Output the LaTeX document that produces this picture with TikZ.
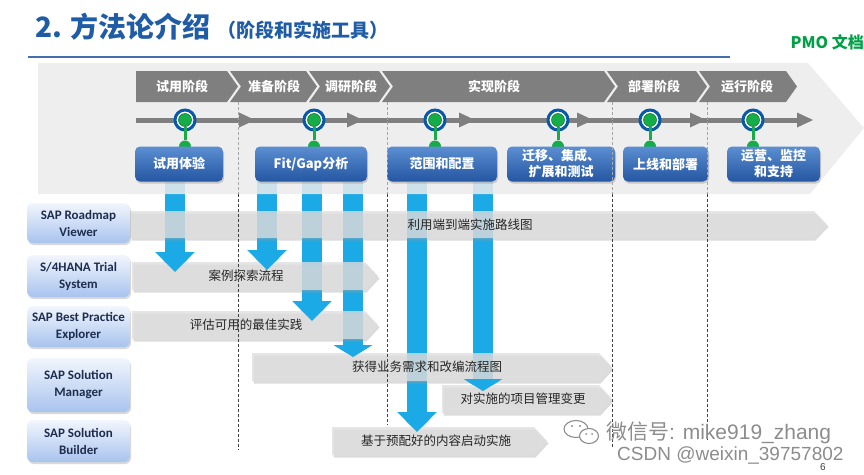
\documentclass[tikz,border=0pt]{standalone}
\usepackage{fontspec}
\setmainfont{Noto Sans CJK SC}
\newfontfamily\toolfont{Carlito}
\newfontfamily\markfont{Liberation Sans}
\usetikzlibrary{shapes,arrows.meta,positioning,calc,shadows}
\pgfdeclarelayer{flow}
\pgfdeclarelayer{band}
\pgfdeclarelayer{front}
\pgfsetlayers{flow,band,main,front}
\definecolor{titleblue}{RGB}{31,92,165}
\definecolor{lineblue}{RGB}{70,110,175}
\definecolor{pmogreen}{RGB}{0,160,70}
\definecolor{phasegray}{RGB}{127,127,127}
\definecolor{bandgray}{RGB}{235,235,235}
\definecolor{ringblue}{RGB}{10,88,168}
\definecolor{dotgreen}{RGB}{22,172,72}
\definecolor{boxtop}{RGB}{92,142,210}
\definecolor{boxbot}{RGB}{36,86,162}
\definecolor{tooltop}{RGB}{242,246,253}
\definecolor{toolbot}{RGB}{168,195,238}
\definecolor{tooltext}{RGB}{30,45,78}
\definecolor{flowblue}{RGB}{27,170,230}
\definecolor{bargray}{RGB}{222,222,222}
\tikzset{
  titletxt/.style={inner sep=0pt,text=titleblue,
                   font=\fontsize{28pt}{32pt}\selectfont\bfseries},
  subtxt/.style={inner sep=0pt,text=titleblue,
                 font=\fontsize{19pt}{22pt}\selectfont\bfseries},
  pmotxt/.style={inner sep=0pt,text=pmogreen,
                 font=\fontsize{16pt}{18pt}\selectfont\bfseries},
  titleline/.style={draw=lineblue,line width=2pt},
  phasetxt/.style={inner sep=0pt,text=white,
                   font=\fontsize{13pt}{15pt}\selectfont\bfseries},
  timeline/.style={draw=phasegray,line width=5pt},
  msring/.style={circle,draw=ringblue,line width=3pt,fill=white,
                 minimum size=20pt,inner sep=0pt},
  msdot/.style={circle,fill=dotgreen,draw=dotgreen!75!black,line width=0.6pt,
                minimum size=13pt,inner sep=0pt},
  msfoot/.style={circle,fill=dotgreen,minimum size=12pt,inner sep=0pt},
  stem/.style={draw=dotgreen,line width=3pt},
  msbox/.style={rectangle,rounded corners=5pt,top color=boxtop,bottom color=boxbot,
                minimum height=35pt,inner sep=1pt,align=center,text=white,
                font=\fontsize{13pt}{16pt}\selectfont\bfseries,
                drop shadow={opacity=0.35,shadow xshift=1pt,shadow yshift=-2pt}},
  toolbox/.style={rectangle,rounded corners=6pt,top color=tooltop,bottom color=toolbot,
                  minimum width=103pt,inner sep=1pt,align=center,text=tooltext,
                  font=\toolfont\bfseries\fontsize{13pt}{17pt}\selectfont,
                  drop shadow={opacity=0.3,shadow xshift=1pt,shadow yshift=-2pt}},
  barshadow/.style={fill=black!40,fill opacity=0.35},
  barfill/.style={fill=bargray,fill opacity=0.78},
  bartxt/.style={inner sep=0pt,text=black!85,font=\fontsize{12.5pt}{14pt}\selectfont},
  sepfaint/.style={draw=black!35,line width=0.7pt,dash pattern=on 3pt off 2pt},
  sepline/.style={draw=black!75,line width=0.8pt,dash pattern=on 3pt off 2pt},
  flowarr/.style={draw=flowblue,line width=20pt,-{Triangle[width=38pt,length=20pt]}},
  flowflat/.style={draw=flowblue,line width=20pt,-{Triangle[width=38pt,length=12pt]}},
  marktxt/.style={inner sep=0pt,text=black!45},
}
\begin{document}
\begin{tikzpicture}[x=1pt,y=-1pt]
  \useasboundingbox (0,0) rectangle (864,474);
  %% Title
  \node[titletxt,anchor=west] (title) at (35,27) {2. 方法论介绍};
  \node[subtxt,right=6pt of title.base east,anchor=base west] (subt) {（阶段和实施工具）};
  \node[pmotxt,anchor=east] (pmo) at (864,42) {PMO 文档};
  \draw[titleline] (28,57) -- (730,57);

  %% Background band
  \begin{pgfonlayer}{band}
    \fill[bandgray,fill opacity=0.85] (38,63) -- (808,63) -- (864,128)
      -- (810,194) -- (38,194) -- cycle;
  \end{pgfonlayer}

  %% Phase chevrons
  \foreach \n/\l/\r/\d/\tx/\t in {p1/136/238/0/182/试用阶段,
      p2/230/317/11/274/准备阶段, p3/309/390/11/351/调研阶段,
      p4/382/615/11/494/实现阶段, p5/607/707/11/654/部署阶段,
      p6/699/797/11/747/运行阶段}{
    \fill[phasegray] (\l,71) -- (\r-11,71) -- (\r,86.5) -- (\r-11,102)
      -- (\l,102) -- (\l+\d,86.5) -- cycle;
    \node[phasetxt] (\n) at (\tx,86.5) {\t};
  }

  %% Timeline
  \draw[timeline] (136,120) -- (800,120);
  \foreach \t in {255,363,475,593,706,813}
    \fill[phasegray] (\t,120) -- (\t-16,112.5) -- (\t-16,127.5) -- cycle;

  %% Milestones
  \foreach \i/\x in {1/185,2/314,3/435,4/558,5/650,6/753}{
    \node[msfoot] (f\i) at (\x,146.5) {};
    \node[msring] (m\i) at (\x,120) {};
    \node[msdot] (g\i) at (m\i) {};
    \draw[stem] (g\i) -- (f\i);
  }

  %% Deliverable boxes
  \node[msbox,minimum width=88pt] (b1) at (179,164) {试用体验};
  \node[msbox,minimum width=112pt] (b2) at (311,164) {Fit/Gap分析};
  \node[msbox,minimum width=110pt] (b3) at (442,164) {范围和配置};
  \node[msbox,minimum width=108pt] (b4) at (561,164) {迁移、集成、\\扩展和测试};
  \node[msbox,minimum width=85pt] (b5) at (665.5,164) {上线和部署};
  \node[msbox,minimum width=93pt] (b6) at (773.5,164) {运营、监控\\和支持};

  %% Process bars
  \foreach \n/\xa/\xb/\ya/\yb/\tx/\t in {r1/130/827/211/238/470/利用端到端实施路线图,
      r2/132/378/262/290/246/案例探索流程, r3/132/378/311/339/246/评估可用的最佳实践,
      r4/252/612/353/381/427/获得业务需求和改编流程图,
      r5/442/612/385/413/523/对实施的项目管理变更,
      r6/332/547/427/455/436/基于预配好的内容启动实施}{
    \fill[barshadow,shift={(1.5,2.5)}] (\xa,\ya) -- (\xb-13,\ya)
      -- (\xb,{(\ya+\yb)/2}) -- (\xb-13,\yb) -- (\xa,\yb) -- cycle;
    \fill[barfill] (\xa,\ya) -- (\xb-13,\ya) -- (\xb,{(\ya+\yb)/2})
      -- (\xb-13,\yb) -- (\xa,\yb) -- cycle;
    \node[bartxt] (\n) at (\tx,{(\ya+\yb)/2}) {\t};
  }

  %% Tools
  \node[toolbox,minimum height=40pt] (t1) at (78.5,223) {SAP Roadmap\\Viewer};
  \node[toolbox,minimum height=42pt] (t2) at (78.5,276) {S/4HANA Trial\\System};
  \node[toolbox,minimum height=41pt] (t3) at (78.5,326.5) {SAP Best Practice\\Explorer};
  \node[toolbox,minimum height=54pt] (t4) at (78.5,385) {SAP Solution\\Manager};
  \node[toolbox,minimum height=42pt] (t5) at (78.5,441) {SAP Solution\\Builder};

  %% Phase separators
  \foreach \x/\e in {238/450,387/425,612/448,707/440}{
    \draw[sepfaint] (\x,102) -- (\x,194);
    \draw[sepline] (\x,194) -- (\x,\e);
  }

  %% Flow arrows
  \coordinate (a1) at (175,272);
  \coordinate (a2) at (267,270);
  \coordinate (a3) at (312,321);
  \coordinate (a4) at (353,357);
  \coordinate (a5) at (417,432);
  \coordinate (a6) at (483,391);
  \begin{pgfonlayer}{flow}
    \foreach \a/\b in {a1/b1,a2/b2,a3/b2,a5/b3}
      \draw[flowarr] (\a |- \b.south) -- (\a);
    \foreach \a/\b in {a4/b2,a6/b3}
      \draw[flowflat] (\a |- \b.south) -- (\a);
  \end{pgfonlayer}
  \begin{pgfonlayer}{front}
    \foreach \a in {a1,a2,a3,a5}
      \draw[flowarr] ([yshift=20pt]\a) -- (\a);
    \foreach \a in {a4,a6}
      \draw[flowflat] ([yshift=12pt]\a) -- (\a);

    %% Watermark
    \draw[black!45,line width=1.1pt] (576,429) ellipse [x radius=12pt,y radius=8.5pt];
    \draw[black!45,line width=1.1pt,fill=white] (589,436) ellipse [x radius=9.5pt,y radius=7.5pt];
    \fill[black!45] (572,426) circle (1.2pt) (580,426) circle (1.2pt)
      (586,434) circle (1pt) (592,434) circle (1pt);
    \node[marktxt,anchor=west,font=\fontsize{21pt}{24pt}\selectfont] (wx) at (606,433)
      {微信号{\markfont: mike919\_zhang}};
    \node[marktxt,anchor=west,font=\markfont\fontsize{19pt}{22pt}\selectfont] (csdn)
      at (617,455) {CSDN @weixin\_39757802};
    \node[inner sep=0pt,text=black!75,font=\markfont\fontsize{10pt}{12pt}\selectfont]
      (pg) at (823,467) {6};
  \end{pgfonlayer}
\end{tikzpicture}
\end{document}
